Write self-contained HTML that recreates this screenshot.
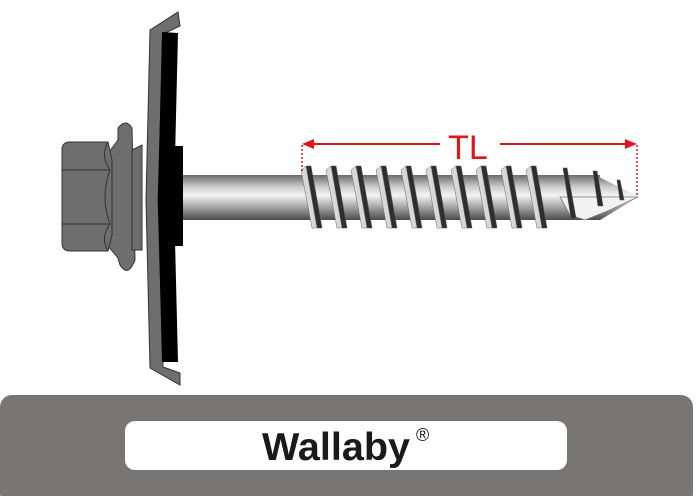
<!DOCTYPE html>
<html><head><meta charset="utf-8"><style>
html,body{margin:0;padding:0;background:#fff;width:700px;height:496px;overflow:hidden}
</style></head><body>
<svg width="700" height="496" viewBox="0 0 700 496" xmlns="http://www.w3.org/2000/svg">
<defs>
<linearGradient id="sh" x1="0" y1="0" x2="0" y2="1">
<stop offset="0" stop-color="#6a6a6a"/><stop offset="0.25" stop-color="#c8c8c8"/>
<stop offset="0.45" stop-color="#f4f4f4"/><stop offset="0.7" stop-color="#a8a8a8"/>
<stop offset="1" stop-color="#4a4a4a"/></linearGradient>
</defs>
<!-- washer -->
<path d="M150,30 L178,12 L180,26 L163,34 L158,200 L163,367 L180,373 L180,385 L150,368 L146,200 Z" fill="#6e6e6e" stroke="#333" stroke-width="1"/>
<path d="M162,32 L178,33 L174,200 L178,362 L162,362 L158,200 Z" fill="#000"/>
<rect x="160" y="146" width="23" height="100" fill="#000"/>
<!-- flange -->
<path d="M118,128 Q126,118 132,128 L135,260 Q128,278 120,265 L118,258 L103,240 L103,160 L118,140 Z" fill="#6e6e6e" stroke="#333"/>
<path d="M132,150 L142,145 L142,250 L132,250 Z" fill="#6e6e6e" stroke="#333"/>
<!-- hex -->
<path d="M70,142 L108,142 L112,160 L112,235 L108,251 L70,251 Q62,251 62,243 L62,150 Q62,142 70,142 Z" fill="#6e6e6e" stroke="#333"/>
<path d="M62,170 L110,170 M62,224 L110,224" stroke="#333" fill="none"/>
<path d="M108,142 Q100,156 110,170 Q100,197 110,224 Q100,238 108,251" stroke="#333" fill="none"/>
<!-- shank -->
<rect x="183" y="175" width="125" height="45" fill="url(#sh)"/>
<rect x="300" y="175" width="300" height="45" fill="url(#sh)"/>
<path d="M595,175 L625,190 L638,197 L625,205 L600,220 Z" fill="url(#sh)"/>
<path d="M560,197 L638,197 L610,210 L585,220 L570,215 Z" fill="#f2f2f2" stroke="#777" stroke-width="0.8"/>
<g fill="#2e2e2e" stroke="#555" stroke-width="0.6">
<path d="M306,166 L311,166 L322,228 L317,228 Z"/><path d="M331,166 L336,166 L347,228 L342,228 Z"/>
<path d="M356,166 L361,166 L372,228 L367,228 Z"/><path d="M381,166 L386,166 L397,228 L392,228 Z"/>
<path d="M406,166 L411,166 L422,228 L417,228 Z"/><path d="M431,166 L436,166 L447,228 L442,228 Z"/>
<path d="M456,166 L461,166 L472,228 L467,228 Z"/><path d="M481,166 L486,166 L497,228 L492,228 Z"/>
<path d="M506,166 L511,166 L522,228 L517,228 Z"/><path d="M531,166 L536,166 L547,228 L542,228 Z"/>
<path d="M563,168 L567,168 L576,218 L571,218 Z"/><path d="M593,171 L597,171 L603,206 L598,206 Z"/>
<path d="M617,180 L620,180 L624,200 L620,200 Z"/>
</g>
<g fill="#d8d8d8" stroke="#666" stroke-width="0.5">
<path d="M301,170 L306,166 L317,228 L312,228 Z"/><path d="M326,170 L331,166 L342,228 L337,228 Z"/>
<path d="M351,170 L356,166 L367,228 L362,228 Z"/><path d="M376,170 L381,166 L392,228 L387,228 Z"/>
<path d="M401,170 L406,166 L417,228 L412,228 Z"/><path d="M426,170 L431,166 L442,228 L437,228 Z"/>
<path d="M451,170 L456,166 L467,228 L462,228 Z"/><path d="M476,170 L481,166 L492,228 L487,228 Z"/>
<path d="M501,170 L506,166 L517,228 L512,228 Z"/><path d="M526,170 L531,166 L542,228 L537,228 Z"/>
</g>
<!-- TL dimension -->
<g stroke="#e0161e" fill="#e0161e">
<line x1="302" y1="145" x2="302" y2="172" stroke-dasharray="2,2" stroke-width="1.5"/>
<line x1="637" y1="145" x2="637" y2="197" stroke-dasharray="2,2" stroke-width="1.5"/>
<line x1="312" y1="144" x2="440" y2="144" stroke-width="2"/>
<line x1="500" y1="144" x2="627" y2="144" stroke-width="2"/>
<path d="M302,144 L314,139 L314,149 Z" stroke="none"/>
<path d="M637,144 L625,139 L625,149 Z" stroke="none"/>
</g>
<text x="468" y="159" text-anchor="middle" font-family="Liberation Sans, sans-serif" font-size="34" fill="#e0161e">TL</text>
<!-- bottom bar -->
<rect x="0" y="395" width="693" height="110" rx="12" fill="#787675"/>
<rect x="125" y="421" width="442" height="49" rx="10" fill="#fff"/>
<text x="262" y="460" textLength="148" lengthAdjust="spacingAndGlyphs" font-family="Liberation Sans, sans-serif" font-weight="bold" font-size="39" fill="#1a1a1a">Wallaby</text>
<text x="416" y="441" font-family="Liberation Sans, sans-serif" font-size="18" fill="#1a1a1a">®</text>
</svg>
</body></html>
